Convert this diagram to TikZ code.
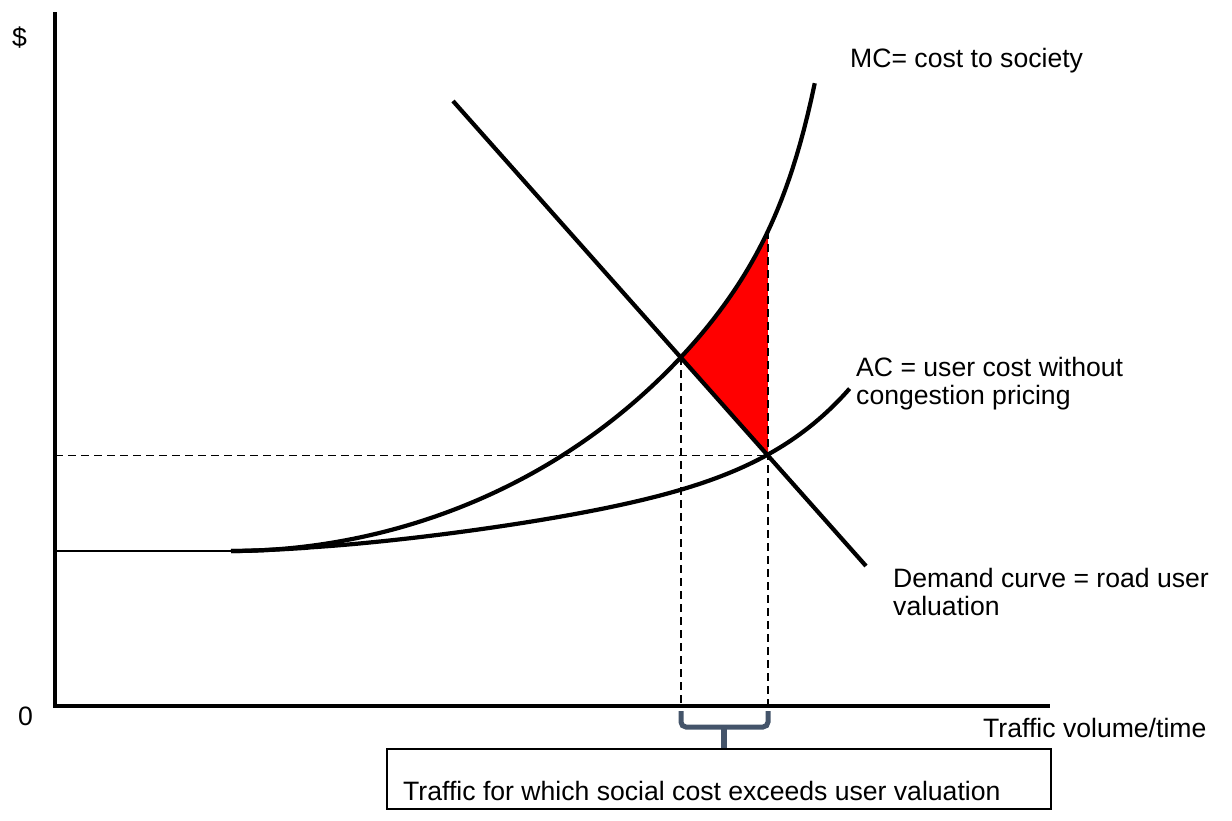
\documentclass[tikz,border=0pt]{standalone}
\usepackage{fontspec}
\setmainfont{Liberation Sans}
\definecolor{braceblue}{HTML}{44546A}
\begin{document}
\begin{tikzpicture}[x=1pt,y=-1pt,
  lbl/.style={anchor=base west,inner sep=0pt,font=\fontsize{26.6}{30}\selectfont},
  axisline/.style={line width=3.5pt},
  curveline/.style={line width=4.2pt},
  guide/.style={line width=1.5pt,dash pattern=on 8pt off 5pt},
  bracestyle/.style={draw=braceblue,line width=5pt,rounded corners=5pt}]
\useasboundingbox (0,0) rectangle (1232,820);
% red area between MC and demand
\fill[red] plot[domain=0.7705:0.9195,samples=40,variable=\u]
  ({231+584*\u},{551-(277.8*\u^2+104.9*\u^5+86.3*\u^20)}) -- (768,455.5) -- cycle;
% key points
\coordinate (e1) at (681,357.1);
\coordinate (e2) at (768,455.5);
\coordinate (mctop) at (768,231);
\coordinate (dtop) at (453,101);
\coordinate (dend) at (866,566);
% dashed guides
\draw[guide] (55,455.5) -- (e2);
\draw[guide] (e1) -- (681,706);
\draw[guide] (mctop) -- (768,706);
% axes
\draw[axisline] (55,12) -- (55,706) -- (1050,706);
\draw[line width=2.8pt] (55,551) -- (231,551);
% MC curve
\draw[curveline] plot[domain=0:1,samples=160,variable=\u]
  ({231+584*\u},{551-(277.8*\u^2+104.9*\u^5+86.3*\u^20)});
% AC curve
\draw[curveline] (231,551) -- plot[domain=0.003:1,samples=160,variable=\u]
  ({231+620*\u},{551-(93.3*\u^1.6+70.7*\u^8)});
% demand
\draw[curveline] (dtop) -- (dend);
% brace
\draw[bracestyle] (681,711) -- (681,727) -- (768,727) -- (768,711);
\node (box) [draw,line width=1.5pt,anchor=north west,minimum width=664pt,minimum height=60pt,inner sep=0pt] at (386,748) {};
\draw[draw=braceblue,line width=6pt] (724,727) -- (box.north -| 724,0);
% labels
\node[lbl] (dollar) at (12,46) {\$};
\node[lbl] (zero) at (18,725) {0};
\node[lbl] (mc) at (850,67) {MC= cost to society};
\node[lbl] (ac1) at (856,376) {AC = user cost without};
\node[lbl] (ac2) at (856,404) {congestion pricing};
\node[lbl] (d1) at (893,587) {Demand curve = road user};
\node[lbl] (d2) at (893,615) {valuation};
\node[lbl] (xl) at (983,737) {Traffic volume/time};
\node[lbl] (boxtext) at (403,800) {Traffic for which social cost exceeds user valuation};
\end{tikzpicture}
\end{document}
